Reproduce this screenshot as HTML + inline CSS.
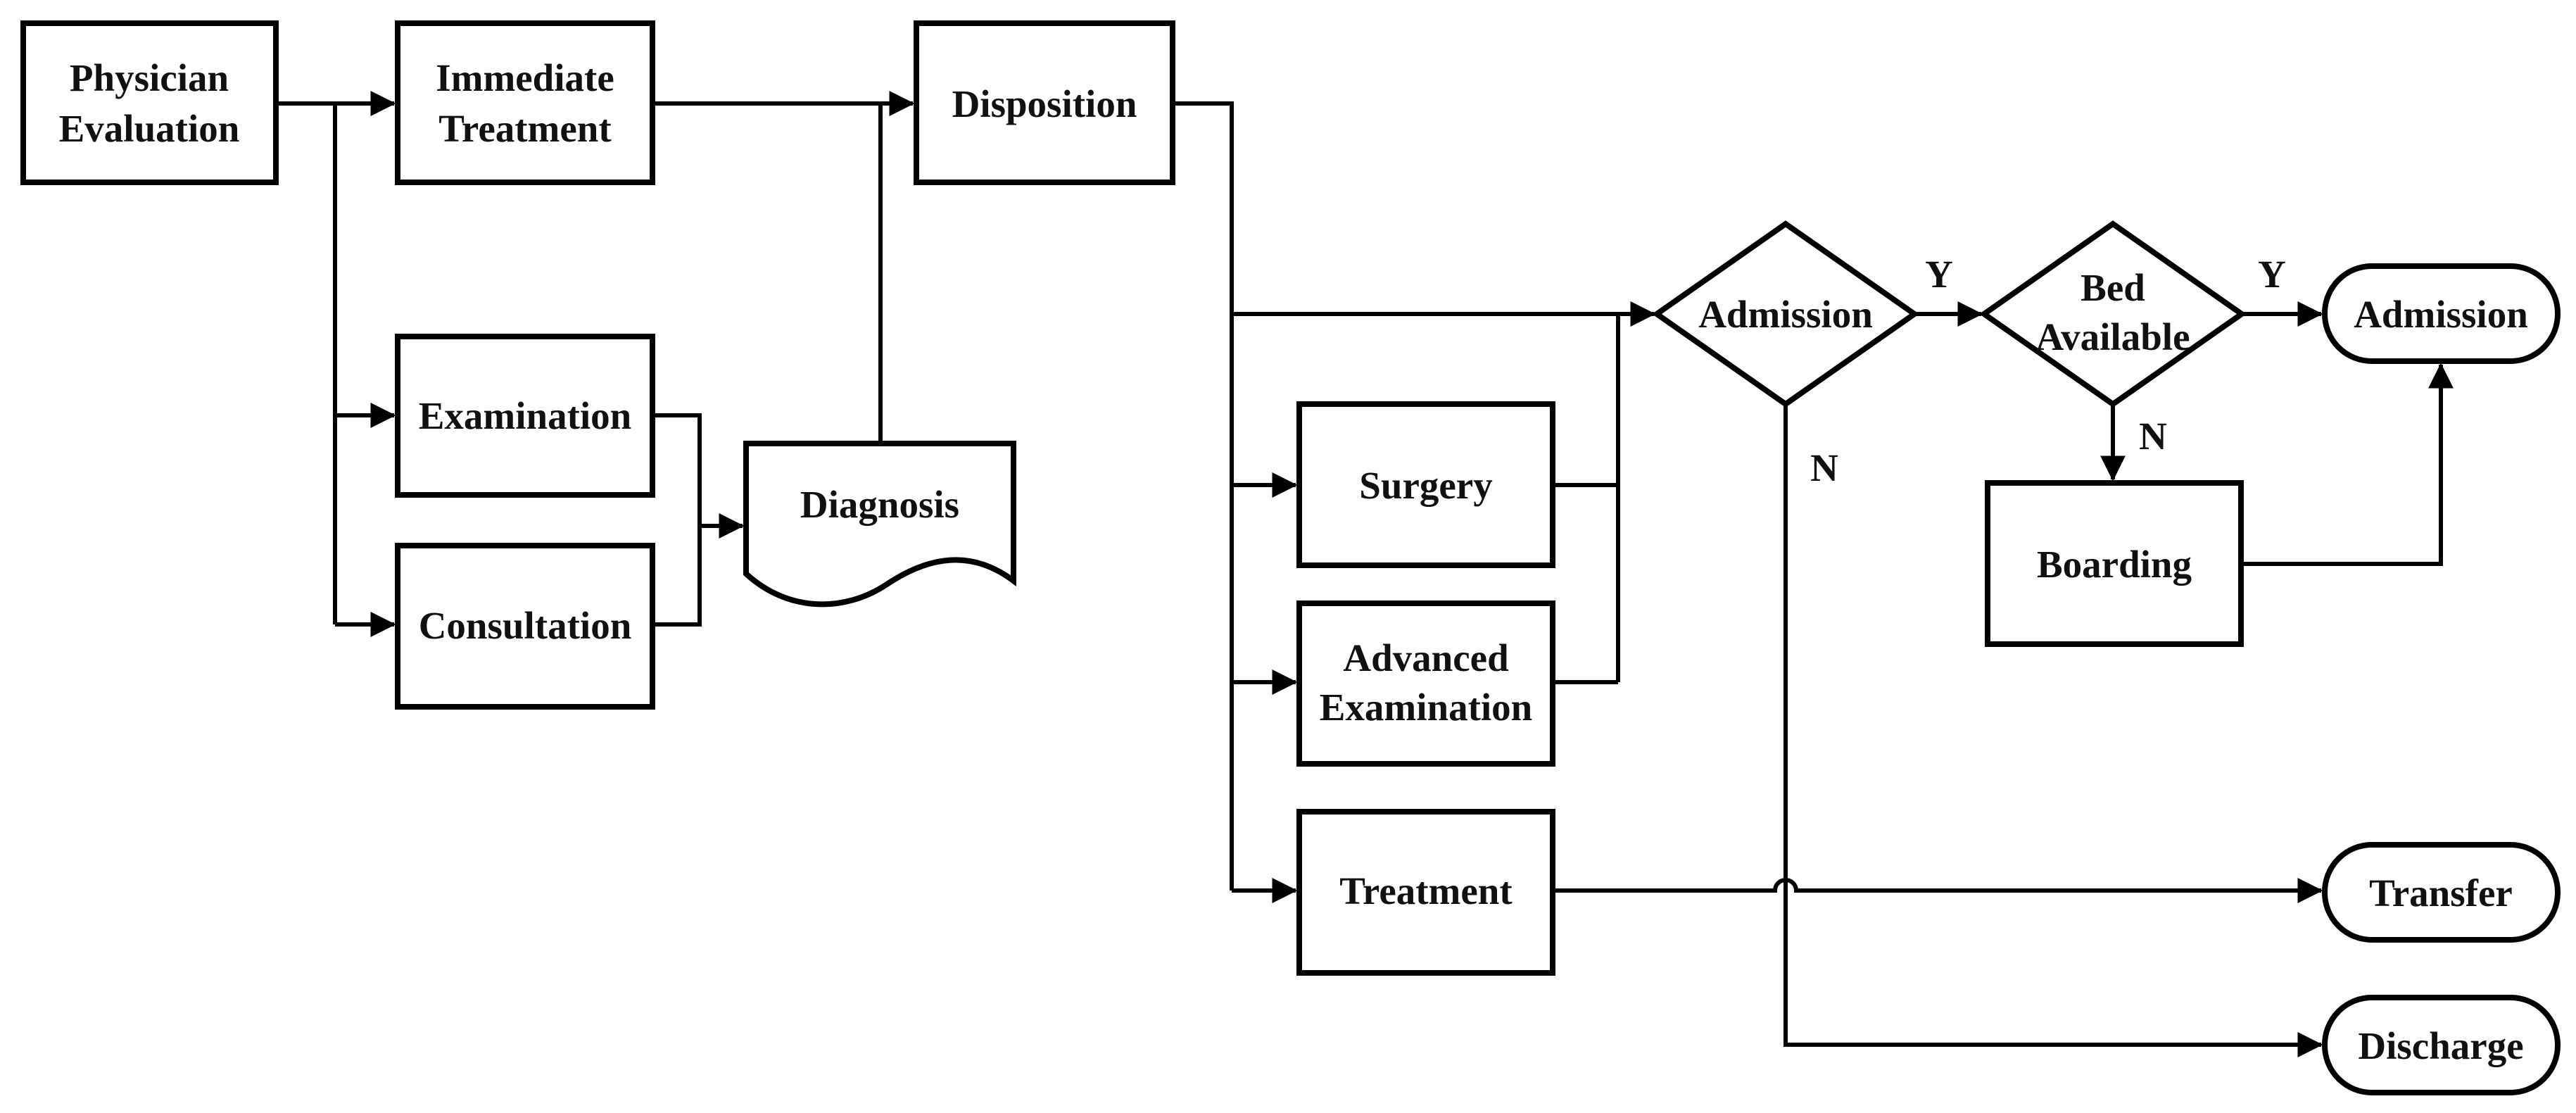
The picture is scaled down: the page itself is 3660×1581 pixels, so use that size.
<!DOCTYPE html>
<html><head><meta charset="utf-8"><style>
html,body{margin:0;padding:0;background:#fff;}
svg{display:block;}
text{font-family:"Liberation Serif",serif;font-weight:bold;font-size:55px;fill:#111;text-anchor:middle;}
</style></head><body>
<svg width="3660" height="1581" viewBox="0 0 3660 1581" xmlns="http://www.w3.org/2000/svg">
<defs>
<marker id="a" markerWidth="6" markerHeight="6" refX="5.6" refY="3" orient="auto" markerUnits="strokeWidth">
<path d="M0,0 L6,3 L0,6 z" fill="#000"/>
</marker>
</defs>
<g fill="none" stroke="#000" stroke-width="8">
<rect x="33" y="33" width="359" height="226"/>
<rect x="565" y="33" width="362" height="226"/>
<rect x="1302" y="33" width="364" height="226"/>
<rect x="565" y="478" width="362" height="225"/>
<rect x="565" y="775" width="362" height="229"/>
<path d="M1060,630 H1440 V825 C1380,780 1320,790 1260,830 C1200,870 1120,870 1060,815 Z"/>
<rect x="1846" y="574" width="360" height="229"/>
<rect x="1846" y="857" width="360" height="228"/>
<rect x="1846" y="1153" width="360" height="229"/>
<path d="M2537,318 L2720,446 L2537,574 L2354,446 Z"/>
<path d="M3002,318 L3185,446 L3002,574 L2819,446 Z"/>
<rect x="3303" y="378" width="331" height="135" rx="67"/>
<rect x="2824" y="686" width="360" height="229"/>
<rect x="3303" y="1200" width="331" height="135" rx="67"/>
<rect x="3303" y="1417" width="331" height="135" rx="67"/>
</g>
<g fill="none" stroke="#000" stroke-width="6">
<path d="M392,147 H560" marker-end="url(#a)"/>
<path d="M476,147 V887"/>
<path d="M476,590 H560" marker-end="url(#a)"/>
<path d="M476,887 H560" marker-end="url(#a)"/>
<path d="M927,147 H1297" marker-end="url(#a)"/>
<path d="M1251,147 V630"/>
<path d="M927,590 H994 V887 H927"/>
<path d="M994,747 H1055" marker-end="url(#a)"/>
<path d="M1666,147 H1750 V1265"/>
<path d="M1750,446 H2350" marker-end="url(#a)"/>
<path d="M1750,689 H1841" marker-end="url(#a)"/>
<path d="M1750,969 H1841" marker-end="url(#a)"/>
<path d="M1750,1265 H1841" marker-end="url(#a)"/>
<path d="M2206,689 H2299 M2206,969 H2299 M2299,446 V969"/>
<path d="M2720,446 H2815" marker-end="url(#a)"/>
<path d="M3185,446 H3298" marker-end="url(#a)"/>
<path d="M3002,574 V681" marker-end="url(#a)"/>
<path d="M3184,801 H3468 V518" marker-end="url(#a)"/>
<path d="M2537,574 V1484 H3298" marker-end="url(#a)"/>
<path d="M2206,1265 H2522 A15,15 0 0 1 2552,1265 H3298" marker-end="url(#a)"/>
</g>
<text x="212" y="129">Physician</text>
<text x="212" y="201">Evaluation</text>
<text x="746" y="129">Immediate</text>
<text x="746" y="201">Treatment</text>
<text x="1484" y="166">Disposition</text>
<text x="746" y="609">Examination</text>
<text x="746" y="907">Consultation</text>
<text x="1250" y="735">Diagnosis</text>
<text x="2026" y="708">Surgery</text>
<text x="2026" y="953">Advanced</text>
<text x="2026" y="1023">Examination</text>
<text x="2026" y="1284">Treatment</text>
<text x="2537" y="465">Admission</text>
<text x="3002" y="427">Bed</text>
<text x="3002" y="497">Available</text>
<text x="3468" y="465">Admission</text>
<text x="3004" y="820">Boarding</text>
<text x="3468" y="1287">Transfer</text>
<text x="3468" y="1504">Discharge</text>
<text x="2755" y="408">Y</text>
<text x="3228" y="408">Y</text>
<text x="3059" y="638">N</text>
<text x="2592" y="683">N</text>
</svg>
</body></html>
